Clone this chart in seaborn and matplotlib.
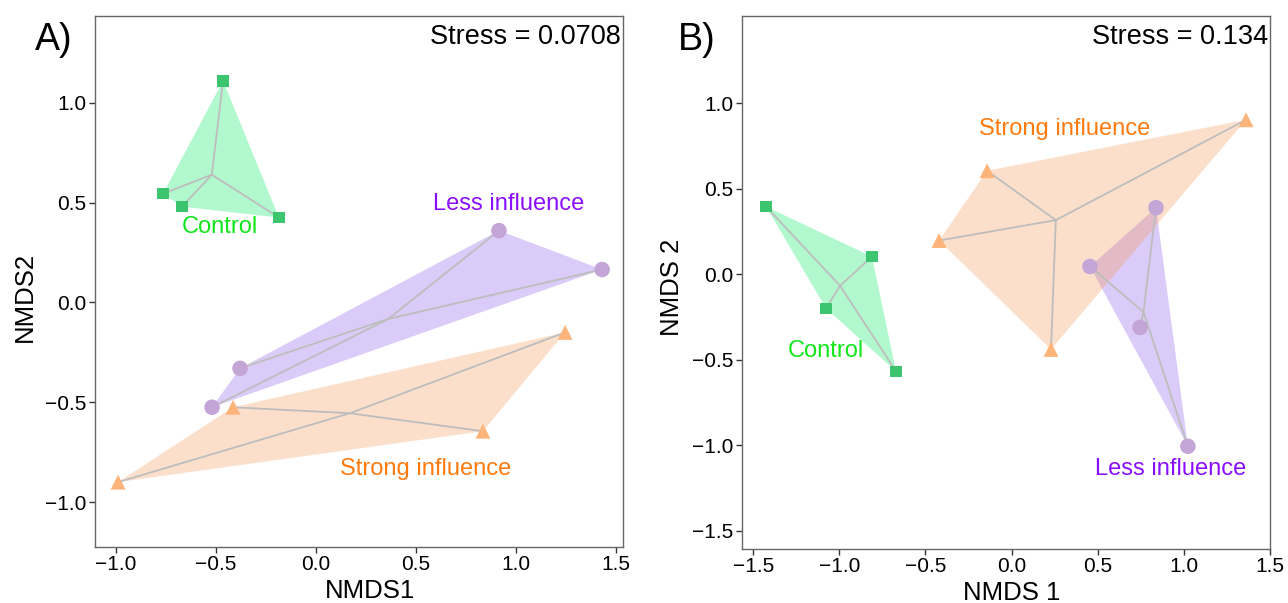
import numpy as np
import pandas as pd
import matplotlib
matplotlib.use("Agg")
import matplotlib.pyplot as plt
from matplotlib.patches import Polygon
import seaborn as sns

sns.set_theme(style="white")
plt.rcParams['font.family'] = ['Liberation Sans', 'DejaVu Sans']
plt.rcParams['text.color'] = 'black'
plt.rcParams['axes.labelcolor'] = 'black'

groups = ["Control", "Less influence", "Strong influence"]

# Panel A coordinates
a_control_x = [-0.465, -0.765, -0.670, -0.185]
a_control_y = [1.110, 0.545, 0.480, 0.425]
a_less_x = [0.915, 1.431, -0.380, -0.520]
a_less_y = [0.360, 0.165, -0.330, -0.525]
a_strong_x = [-0.990, -0.415, 0.835, 1.246]
a_strong_y = [-0.900, -0.525, -0.645, -0.150]
a_stress = "Stress = 0.0708"

# Panel B coordinates
b_control_x = [-1.426, -0.811, -1.078, -0.671]
b_control_y = [0.395, 0.103, -0.200, -0.568]
b_less_x = [0.840, 0.456, 0.747, 1.025]
b_less_y = [0.389, 0.045, -0.311, -1.006]
b_strong_x = [1.363, -0.142, -0.421, 0.2295]
b_strong_y = [0.903, 0.605, 0.197, -0.440]
b_stress = "Stress = 0.134"

ticks_a_x = [-1.0, -0.5, 0.0, 0.5, 1.0, 1.5]
ticks_a_y = [-1.0, -0.5, 0.0, 0.5, 1.0]
ticks_b_x = [-1.5, -1.0, -0.5, 0.0, 0.5, 1.0, 1.5]
ticks_b_y = [-1.5, -1.0, -0.5, 0.0, 0.5, 1.0]

# label positions (data coords)
a_label_pos = {"Control": (-0.48, 0.38), "Less influence": (0.965, 0.495), "Strong influence": (0.548, -0.835)}
b_label_pos = {"Control": (-1.078, -0.451), "Less influence": (0.927, -1.14), "Strong influence": (0.31, 0.85)}

marker_col = {"Control": "#3CC46E", "Less influence": "#C3A5D6", "Strong influence": "#FDB47A"}
fill_col = {"Control": "#02EB5F", "Less influence": "#8A55E8", "Strong influence": "#F59855"}
text_col = {"Control": "#11E61A", "Less influence": "#8A0FFF", "Strong influence": "#FF7B0F"}
markers = {"Control": "s", "Less influence": "o", "Strong influence": "^"}
sizes = {"Control": 70, "Less influence": 125, "Strong influence": 115}


def hull(pts):
    pts = sorted(map(tuple, pts))
    def cross(o, a, b):
        return (a[0]-o[0])*(b[1]-o[1]) - (a[1]-o[1])*(b[0]-o[0])
    lower, upper = [], []
    for p in pts:
        while len(lower) >= 2 and cross(lower[-2], lower[-1], p) <= 0:
            lower.pop()
        lower.append(p)
    for p in reversed(pts):
        while len(upper) >= 2 and cross(upper[-2], upper[-1], p) <= 0:
            upper.pop()
        upper.append(p)
    return np.array(lower[:-1] + upper[:-1])


def build_df(cx, cy, lx, ly, sx, sy):
    rows = []
    for g, xs, ys in [("Control", cx, cy), ("Less influence", lx, ly), ("Strong influence", sx, sy)]:
        for x, y in zip(xs, ys):
            rows.append({"x": x, "y": y, "group": g})
    return pd.DataFrame(rows)


def draw(ax, df, label_pos, stress, xt, yt, xlim, ylim, xlabel, ylabel, xl_x, yl_y):
    for g in groups:
        sub = df[df.group == g]
        pts = sub[["x", "y"]].to_numpy()
        h = hull(pts)
        ax.add_patch(Polygon(h, closed=True, facecolor=fill_col[g], alpha=0.30,
                             edgecolor="none", zorder=1))
        c = pts.mean(axis=0)
        for p in pts:
            ax.plot([c[0], p[0]], [c[1], p[1]], color="#BDBDBD", lw=1.3, zorder=2)
    for g in groups:
        sub = df[df.group == g]
        sns.scatterplot(data=sub, x="x", y="y", ax=ax, marker=markers[g], s=sizes[g],
                        color=marker_col[g], edgecolor="none", linewidth=0, zorder=3,
                        legend=False)
        tx, ty = label_pos[g]
        ax.text(tx, ty, g, color=text_col[g], fontsize=17, ha="center", va="center", zorder=4)
    ax.text(0.995, 0.985, stress, transform=ax.transAxes, ha="right", va="top", fontsize=19.5,
            color="black")
    ax.set_xlim(*xlim)
    ax.set_ylim(*ylim)
    ax.set_xticks(xt)
    ax.set_yticks(yt)
    ax.set_xticklabels([f"{t:.1f}".replace("-", "\u2212") for t in xt], fontsize=15)
    ax.set_yticklabels([f"{t:.1f}".replace("-", "\u2212") for t in yt], fontsize=15)
    ax.set_xlabel(xlabel, fontsize=18.5, labelpad=4, color="black")
    ax.set_ylabel(ylabel, fontsize=18.5, labelpad=6, color="black")
    ax.xaxis.label.set_x(xl_x)
    ax.yaxis.label.set_y(yl_y)
    for s in ax.spines.values():
        s.set_color("#666666")
        s.set_linewidth(1.0)
    ax.tick_params(axis="both", direction="out", length=4, width=1, color="#333333",
                   pad=2, labelcolor="black", bottom=True, left=True)


fig = plt.figure(figsize=(12.88, 6.03), dpi=100)
axA = fig.add_axes([94.7/1288, 1-546.5/603, (623.3-94.7)/1288, (546.5-16)/603])
axB = fig.add_axes([741.7/1288, 1-548.5/603, (1270.3-741.7)/1288, (548.5-16)/603])

dfA = build_df(a_control_x, a_control_y, a_less_x, a_less_y, a_strong_x, a_strong_y)
dfB = build_df(b_control_x, b_control_y, b_less_x, b_less_y, b_strong_x, b_strong_y)

draw(axA, dfA, a_label_pos, a_stress, ticks_a_x, ticks_a_y, (-1.107, 1.537), (-1.2225, 1.435),
     "NMDS1", "NMDS2", 0.52, 0.47)
draw(axB, dfB, b_label_pos, b_stress, ticks_b_x, ticks_b_y, (-1.568, 1.504), (-1.604, 1.51),
     "NMDS 1", "NMDS 2", 0.51, 0.49)

fig.text(54/1288, 1-40/603, "A)", fontsize=27, ha="center", va="center")
fig.text(697/1288, 1-40/603, "B)", fontsize=27, ha="center", va="center")

fig.savefig("out.png", dpi=100)
